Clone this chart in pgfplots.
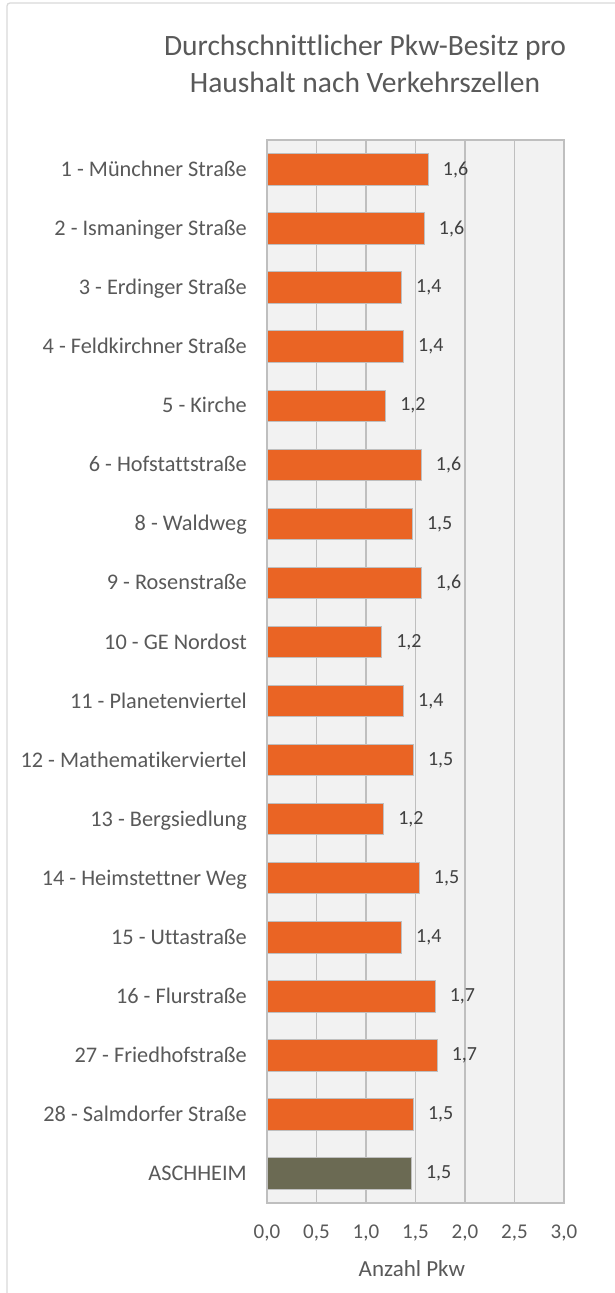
\documentclass[border=0pt]{standalone}
\usepackage{fontspec}
\setmainfont{Carlito}[Ligatures={NoCommon}]
\usepackage{pgfplots}
\pgfplotsset{compat=1.18}
\definecolor{txt}{HTML}{595959}
\definecolor{dtxt}{HTML}{404040}
\definecolor{barorange}{HTML}{EA6424}
\definecolor{barolive}{HTML}{6B6A53}
\definecolor{gridc}{HTML}{BFBFBF}
\definecolor{plotbg}{HTML}{F2F2F2}
\definecolor{framec}{HTML}{D9D9D9}
\begin{document}
\begin{tikzpicture}[x=1pt,y=1pt]
\path[use as bounding box] (0,0) rectangle (614,-1293);
\fill[white] (0,0) rectangle (614,-1293);
\draw[framec, line width=1.3pt, rounded corners=3pt] (7,-1310) -- (7,-3) -- (630,-3);
\node[anchor=base, font=\fontsize{29.5}{29.5}\selectfont, text=txt] at (365,-55) {Durchschnittlicher Pkw-Besitz pro};
\node[anchor=base, font=\fontsize{29.5}{29.5}\selectfont, text=txt] at (365,-92) {Haushalt nach Verkehrszellen};
\begin{axis}[
  at={(267pt,-1203pt)}, anchor=south west,
  scale only axis, width=297pt, height=1063pt,
  xbar, bar shift=0pt, bar width=0.533,
  xmin=0, xmax=3, ymin=-0.5, ymax=17.5, y dir=reverse,
  xtick={0,0.5,1,1.5,2,2.5,3}, ytick={0,1,...,17},
  yticklabels={1 - Münchner Straße, 2 - Ismaninger Straße, 3 - Erdinger Straße, 4 - Feldkirchner Straße, 5 - Kirche, 6 - Hofstattstraße, 8 - Waldweg, 9 - Rosenstraße, 10 - GE Nordost, 11 - Planetenviertel, 12 - Mathematikerviertel, 13 - Bergsiedlung, 14 - Heimstettner Weg, 15 - Uttastraße, 16 - Flurstraße, 27 - Friedhofstraße, 28 - Salmdorfer Straße, ASCHHEIM},
  major tick length=0pt,
  xmajorgrids, grid style={gridc, line width=1.3pt},
  axis line style={gridc, line width=1.3pt},
  axis background/.style={fill=plotbg},
  /pgf/number format/assume math mode=true,
  xticklabel style={anchor=base, yshift=-35pt, font=\fontsize{21}{21}\selectfont, text=txt,
    /pgf/number format/.cd, fixed, fixed zerofill, precision=1, use comma},
  yticklabel style={anchor=base east, inner sep=0pt, xshift=-20pt, yshift=-7pt, font=\fontsize{22.3}{22.3}\selectfont, text=txt},
  xlabel={Anzahl Pkw},
  xlabel style={at={(axis description cs:0.488,0)}, anchor=base, yshift=-73pt, font=\fontsize{23}{23}\selectfont, text=txt},
  point meta=x,
  nodes near coords={\pgfmathprintnumber[fixed,fixed zerofill,precision=1,use comma,assume math mode=true]{\pgfplotspointmeta}},
  every node near coord/.append style={anchor=west, inner sep=0pt, xshift=14pt, font=\fontsize{20}{20}\selectfont, text=dtxt},
]
\addplot[fill=barorange, draw=gridc, line width=1pt] coordinates {
(1.63,0) (1.59,1) (1.36,2) (1.38,3) (1.20,4) (1.56,5) (1.47,6) (1.56,7) (1.16,8)
(1.38,9) (1.48,10) (1.18,11) (1.54,12) (1.36,13) (1.70,14) (1.72,15) (1.48,16)};
\addplot[fill=barolive, draw=gridc, line width=1pt] coordinates {(1.46,17)};
\end{axis}
\end{tikzpicture}
\end{document}
